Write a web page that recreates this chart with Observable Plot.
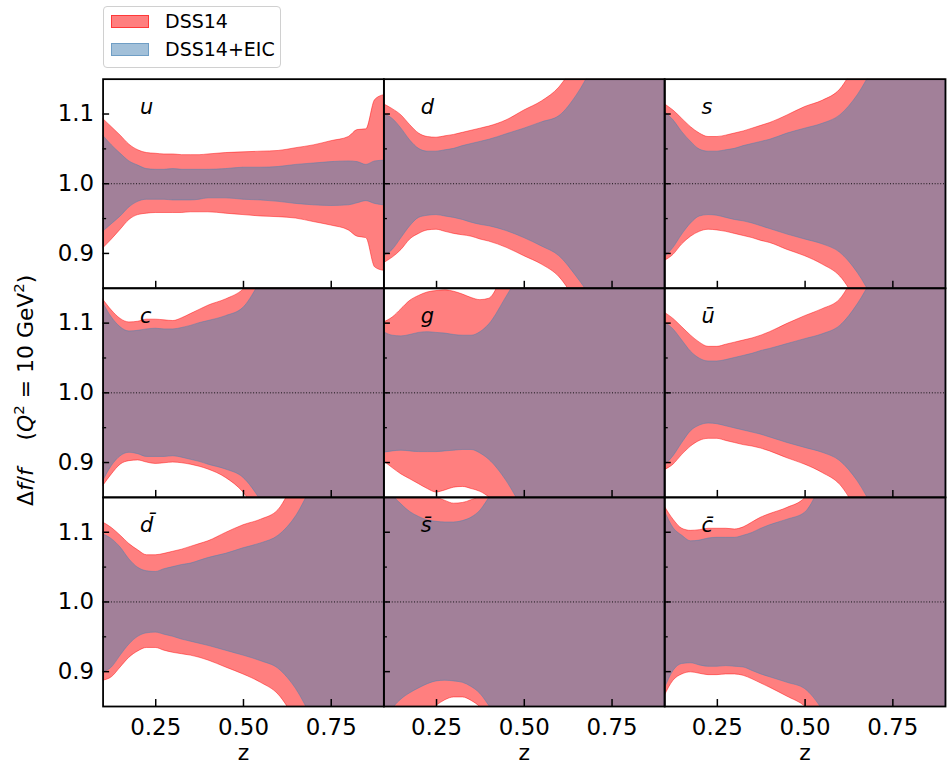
<!DOCTYPE html>
<html>
<head>
<meta charset="utf-8">
<script src="https://cdn.jsdelivr.net/npm/d3@7"></script>
<script src="https://cdn.jsdelivr.net/npm/@observablehq/plot@0.6"></script>
<style>
  html, body { margin: 0; padding: 0; background: #fff; overflow: hidden; }
  #wrap { position: relative; width: 948px; height: 770px; overflow: hidden; }
  #legend {
    position: absolute; left: 103px; top: 6px; width: 178px; height: 62px;
    box-sizing: border-box; border: 1px solid #d0d0d0; border-radius: 4px;
    background: rgba(255,255,255,0.85);
    font-family: "DejaVu Sans", sans-serif; font-size: 19px; color: #000;
  }
  #legend .patch { position: absolute; left: 7px; width: 38px; height: 13px; box-sizing: border-box; }
  #legend .lab { position: absolute; left: 61px; line-height: 19px; white-space: nowrap; }
</style>
</head>
<body>
<div id="wrap">
  <div id="chart"></div>
  <div id="legend">
    <div class="patch" style="top:8px;background:rgba(255,0,0,0.5);border:1px solid rgba(255,0,0,0.55);"></div>
    <div class="lab" style="top:5px;">DSS14</div>
    <div class="patch" style="top:36px;background:rgba(70,130,180,0.5);border:1px solid rgba(70,130,180,0.55);"></div>
    <div class="lab" style="top:33px;">DSS14+EIC</div>
  </div>
</div>
<script>
// momentum fraction grid shared by all panels
const z = [0.1, 0.125, 0.15, 0.175, 0.2, 0.225, 0.25, 0.275, 0.3, 0.325, 0.35, 0.375, 0.4,
           0.45, 0.5, 0.55, 0.6, 0.65, 0.7, 0.75, 0.8, 0.825, 0.85, 0.875, 0.9];

// tick values
const yMajorTicks = [0.9, 1.0, 1.1];
const yMinorTicks = [0.95, 1.05];
const xTicks = [0.25, 0.5, 0.75];

// u
const uDssHi = [1.093,1.081,1.069,1.056,1.048,1.044,1.043,1.042,1.042,1.041,1.041,1.041,1.042,1.044,1.045,1.046,1.047,1.051,1.055,1.061,1.067,1.077,1.078,1.120,1.127];
const uEicHi = [1.069,1.055,1.043,1.032,1.026,1.021,1.020,1.020,1.021,1.020,1.020,1.020,1.020,1.021,1.023,1.023,1.024,1.027,1.029,1.031,1.032,1.031,1.027,1.032,1.033];
const uEicLo = [0.931,0.942,0.953,0.966,0.974,0.977,0.977,0.977,0.976,0.976,0.976,0.977,0.979,0.979,0.977,0.976,0.974,0.971,0.969,0.968,0.969,0.972,0.975,0.971,0.969];
const uDssLo = [0.907,0.920,0.934,0.948,0.955,0.957,0.958,0.958,0.958,0.958,0.959,0.959,0.959,0.957,0.955,0.953,0.952,0.950,0.945,0.940,0.933,0.924,0.922,0.880,0.875];

// d
const dDssHi = [1.114,1.107,1.098,1.084,1.072,1.067,1.066,1.068,1.070,1.073,1.076,1.079,1.082,1.091,1.105,1.118,1.138,1.175,1.21,1.25,1.29,1.31,1.33,1.35,1.37];
const dEicHi = [1.100,1.093,1.079,1.062,1.050,1.046,1.046,1.048,1.050,1.054,1.057,1.060,1.063,1.071,1.079,1.088,1.097,1.127,1.17,1.21,1.25,1.27,1.29,1.31,1.33];
const dEicLo = [0.896,0.905,0.922,0.939,0.951,0.954,0.955,0.953,0.951,0.948,0.944,0.941,0.939,0.932,0.922,0.910,0.896,0.866,0.83,0.79,0.75,0.73,0.71,0.69,0.67];
const dDssLo = [0.886,0.894,0.905,0.920,0.928,0.933,0.934,0.931,0.928,0.926,0.924,0.920,0.917,0.908,0.896,0.884,0.866,0.83,0.79,0.75,0.71,0.69,0.67,0.65,0.63];

// s
const sDssHi = [1.114,1.105,1.093,1.081,1.072,1.067,1.067,1.069,1.072,1.075,1.079,1.083,1.087,1.098,1.110,1.119,1.135,1.175,1.21,1.25,1.29,1.31,1.33,1.35,1.37];
const sEicHi = [1.103,1.091,1.074,1.060,1.049,1.046,1.046,1.048,1.050,1.054,1.057,1.060,1.063,1.072,1.079,1.086,1.098,1.127,1.17,1.21,1.25,1.27,1.29,1.31,1.33];
const sEicLo = [0.894,0.908,0.927,0.943,0.953,0.955,0.954,0.951,0.948,0.946,0.943,0.939,0.935,0.927,0.920,0.913,0.901,0.872,0.83,0.79,0.75,0.73,0.71,0.69,0.67];
const sDssLo = [0.889,0.898,0.913,0.924,0.931,0.934,0.933,0.931,0.928,0.925,0.922,0.918,0.915,0.905,0.896,0.884,0.867,0.83,0.79,0.75,0.71,0.69,0.67,0.65,0.63];

// c
const cDssHi = [1.134,1.118,1.106,1.101,1.102,1.105,1.105,1.104,1.103,1.107,1.113,1.119,1.125,1.134,1.148,1.18,1.22,1.26,1.30,1.34,1.38,1.40,1.42,1.44,1.46];
const cEicHi = [1.129,1.108,1.094,1.088,1.089,1.091,1.092,1.091,1.091,1.093,1.096,1.100,1.103,1.110,1.122,1.16,1.20,1.24,1.28,1.32,1.36,1.38,1.40,1.42,1.44];
const cEicLo = [0.873,0.895,0.909,0.914,0.912,0.908,0.908,0.908,0.909,0.907,0.904,0.901,0.897,0.890,0.878,0.845,0.80,0.76,0.72,0.68,0.64,0.62,0.60,0.58,0.56];
const cDssLo = [0.866,0.883,0.897,0.902,0.903,0.900,0.898,0.899,0.900,0.899,0.897,0.894,0.890,0.878,0.857,0.82,0.78,0.74,0.70,0.66,0.62,0.60,0.58,0.56,0.54];

// g
const gDssHi = [1.101,1.108,1.120,1.132,1.139,1.144,1.146,1.147,1.145,1.141,1.136,1.133,1.135,1.18,1.22,1.26,1.30,1.34,1.38,1.42,1.46,1.48,1.50,1.52,1.54];
const gEicHi = [1.087,1.082,1.081,1.083,1.086,1.087,1.086,1.085,1.083,1.082,1.082,1.087,1.098,1.138,1.18,1.22,1.26,1.30,1.34,1.38,1.42,1.44,1.46,1.48,1.50];
const gEicLo = [0.914,0.916,0.917,0.916,0.915,0.915,0.915,0.916,0.917,0.918,0.918,0.913,0.904,0.873,0.83,0.79,0.75,0.71,0.67,0.63,0.59,0.57,0.55,0.53,0.51];
const gDssLo = [0.902,0.892,0.883,0.876,0.869,0.862,0.857,0.860,0.864,0.865,0.862,0.858,0.850,0.82,0.79,0.75,0.71,0.67,0.63,0.59,0.55,0.53,0.51,0.49,0.47];

// u-bar
const ubDssHi = [1.115,1.106,1.094,1.082,1.072,1.066,1.066,1.069,1.072,1.075,1.078,1.082,1.087,1.099,1.110,1.120,1.134,1.175,1.21,1.25,1.29,1.31,1.33,1.35,1.37];
const ubEicHi = [1.101,1.091,1.075,1.059,1.049,1.045,1.045,1.047,1.050,1.053,1.056,1.060,1.063,1.070,1.077,1.084,1.096,1.127,1.17,1.21,1.25,1.27,1.29,1.31,1.33];
const ubEicLo = [0.895,0.909,0.928,0.945,0.953,0.956,0.955,0.952,0.949,0.946,0.943,0.940,0.936,0.928,0.921,0.914,0.902,0.873,0.83,0.79,0.75,0.73,0.71,0.69,0.67];
const ubDssLo = [0.889,0.897,0.911,0.923,0.931,0.934,0.934,0.931,0.928,0.925,0.923,0.920,0.916,0.906,0.897,0.885,0.868,0.83,0.79,0.75,0.71,0.69,0.67,0.65,0.63];

// d-bar
const dbDssHi = [1.114,1.106,1.095,1.083,1.074,1.067,1.067,1.069,1.072,1.075,1.079,1.083,1.087,1.099,1.110,1.118,1.132,1.175,1.21,1.25,1.29,1.31,1.33,1.35,1.37];
const dbEicHi = [1.097,1.090,1.078,1.061,1.049,1.044,1.043,1.047,1.050,1.053,1.055,1.059,1.063,1.069,1.077,1.084,1.095,1.123,1.17,1.21,1.25,1.27,1.29,1.31,1.33];
const dbEicLo = [0.899,0.906,0.923,0.939,0.950,0.955,0.956,0.953,0.950,0.946,0.943,0.940,0.937,0.930,0.923,0.915,0.904,0.875,0.83,0.79,0.75,0.73,0.71,0.69,0.67];
const dbDssLo = [0.887,0.892,0.906,0.920,0.929,0.934,0.934,0.930,0.927,0.925,0.923,0.920,0.916,0.906,0.896,0.884,0.867,0.83,0.79,0.75,0.71,0.69,0.67,0.65,0.63];

// s-bar
const sbDssHi = [1.25,1.22,1.20,1.18,1.165,1.156,1.150,1.145,1.141,1.142,1.146,1.152,1.165,1.20,1.24,1.28,1.32,1.36,1.40,1.44,1.48,1.50,1.52,1.54,1.56];
const sbEicHi = [1.19,1.155,1.14,1.129,1.122,1.117,1.115,1.114,1.114,1.116,1.121,1.131,1.149,1.19,1.23,1.27,1.31,1.35,1.39,1.43,1.47,1.49,1.51,1.53,1.55];
const sbEicLo = [0.81,0.845,0.860,0.869,0.876,0.882,0.886,0.887,0.886,0.884,0.878,0.868,0.851,0.81,0.77,0.73,0.69,0.65,0.61,0.57,0.53,0.51,0.49,0.47,0.45];
const sbDssLo = [0.75,0.77,0.79,0.81,0.83,0.842,0.851,0.859,0.863,0.863,0.858,0.849,0.835,0.80,0.76,0.72,0.68,0.64,0.60,0.56,0.52,0.50,0.48,0.46,0.44];

// c-bar
const cbDssHi = [1.137,1.118,1.105,1.102,1.103,1.105,1.105,1.105,1.104,1.107,1.114,1.121,1.126,1.135,1.149,1.19,1.23,1.27,1.31,1.35,1.39,1.41,1.43,1.45,1.47];
const cbEicHi = [1.131,1.106,1.095,1.087,1.088,1.091,1.092,1.092,1.092,1.095,1.099,1.105,1.110,1.118,1.128,1.17,1.21,1.25,1.29,1.33,1.37,1.39,1.41,1.43,1.45];
const cbEicLo = [0.875,0.901,0.911,0.912,0.909,0.907,0.907,0.908,0.907,0.906,0.901,0.896,0.892,0.884,0.875,0.845,0.80,0.76,0.72,0.68,0.64,0.62,0.60,0.58,0.56];
const cbDssLo = [0.865,0.887,0.896,0.899,0.897,0.895,0.895,0.896,0.896,0.894,0.889,0.883,0.877,0.864,0.850,0.82,0.78,0.74,0.70,0.66,0.62,0.60,0.58,0.56,0.54];

// panel layout: flavour label, grid column and row
const panels = [
  {label: "u",        col: 0, row: 0, dssHi: uDssHi,  dssLo: uDssLo,  eicHi: uEicHi,  eicLo: uEicLo},
  {label: "d",        col: 1, row: 0, dssHi: dDssHi,  dssLo: dDssLo,  eicHi: dEicHi,  eicLo: dEicLo},
  {label: "s",        col: 2, row: 0, dssHi: sDssHi,  dssLo: sDssLo,  eicHi: sEicHi,  eicLo: sEicLo},
  {label: "c",        col: 0, row: 1, dssHi: cDssHi,  dssLo: cDssLo,  eicHi: cEicHi,  eicLo: cEicLo},
  {label: "g",        col: 1, row: 1, dssHi: gDssHi,  dssLo: gDssLo,  eicHi: gEicHi,  eicLo: gEicLo},
  {label: "u\u0304",  col: 2, row: 1, dssHi: ubDssHi, dssLo: ubDssLo, eicHi: ubEicHi, eicLo: ubEicLo},
  {label: "d\u0304",  col: 0, row: 2, dssHi: dbDssHi, dssLo: dbDssLo, eicHi: dbEicHi, eicLo: dbEicLo},
  {label: "s\u0304",  col: 1, row: 2, dssHi: sbDssHi, dssLo: sbDssLo, eicHi: sbEicHi, eicLo: sbEicLo},
  {label: "c\u0304",  col: 2, row: 2, dssHi: cbDssHi, dssLo: cbDssLo, eicHi: cbEicHi, eicLo: cbEicLo}
];

// one long table: both bands of every panel (faceted by col/row)
const rows = panels.flatMap(p => [
  ...z.map((zz, i) => ({label: p.label, col: p.col, row: p.row, i, z: zz, set: "DSS14", lo: p.dssLo[i], hi: p.dssHi[i]})),
  ...z.map((zz, i) => ({label: p.label, col: p.col, row: p.row, i, z: zz, set: "DSS14+EIC", lo: p.eicLo[i], hi: p.eicHi[i]}))
]);

const W = 952, H = 770;
const mL = 102.7, mR = 2, mT = 79, mB = 61;
const cellW = (W - mL - mR) / 3, cellH = (H - mT - mB) / 3;
const majorLen = 7, minorLen = 4;

const font = "'DejaVu Sans', sans-serif";

const chart = Plot.plot({
  width: W,
  height: H,
  marginLeft: mL,
  marginRight: mR,
  marginTop: mT,
  marginBottom: mB,
  style: {fontFamily: font, fontSize: "23px", color: "black", background: "white"},
  facet: {data: rows, x: "col", y: "row", marginTop: 0, marginRight: 0, marginBottom: 0, marginLeft: 0},
  x: {domain: [0.1, 0.9], ticks: xTicks, tickFormat: d3.format(".2f"), tickSize: 0, tickPadding: 12, label: null},
  y: {domain: [0.85, 1.15], ticks: yMajorTicks, tickFormat: d3.format(".1f"), tickSize: 0, tickPadding: 9, label: null},
  fx: {axis: null, padding: 0, domain: [0, 1, 2]},
  fy: {axis: null, padding: 0, domain: [0, 1, 2]},
  marks: [
    Plot.areaY(rows, {filter: d => d.set === "DSS14", x: "z", y1: "lo", y2: "hi", curve: "monotone-x",
      fill: "red", fillOpacity: 0.5, stroke: "red", strokeOpacity: 0.45, strokeWidth: 1, clip: true}),
    Plot.areaY(rows, {filter: d => d.set === "DSS14+EIC", x: "z", y1: "lo", y2: "hi", curve: "monotone-x",
      fill: "steelblue", fillOpacity: 0.5, stroke: "steelblue", strokeOpacity: 0.45, strokeWidth: 1, clip: true}),
    Plot.ruleY([1], {stroke: "black", strokeWidth: 0.9, strokeDasharray: "1,1.8"}),
    // inward ticks on the left and bottom edge of every panel
    Plot.ruleY(yMajorTicks, {stroke: "black", strokeWidth: 1.5, insetRight: cellW - majorLen}),
    Plot.ruleY(yMinorTicks, {stroke: "black", strokeWidth: 1.3, insetRight: cellW - minorLen}),
    Plot.ruleX(xTicks, {stroke: "black", strokeWidth: 1.5, insetTop: cellH - majorLen}),
    Plot.frame({stroke: "black", strokeWidth: 1.8}),
    // flavour labels
    Plot.text(rows, {filter: d => d.set === "DSS14" && d.i === 0, frameAnchor: "top-left", text: "label",
      dx: 37, dy: 28, lineAnchor: "middle", textAnchor: "start", fontSize: 21, fontStyle: "italic", fill: "black"}),
    // x label under each column of the bottom row
    Plot.text(rows, {filter: d => d.set === "DSS14" && d.i === 0 && d.row === 2, frameAnchor: "bottom",
      text: () => "z", dy: 47, lineAnchor: "middle", fontSize: 22, fill: "black"})
  ]
});

document.getElementById("chart").appendChild(chart);

// rotated y label with italic math symbols
const yl = d3.select(chart).append("text")
  .attr("transform", "translate(33,392) rotate(-90)")
  .attr("text-anchor", "middle")
  .attr("font-family", font)
  .attr("font-size", 22)
  .attr("fill", "black");
yl.append("tspan").text("\u0394");
yl.append("tspan").attr("font-style", "italic").text("f");
yl.append("tspan").text("/");
yl.append("tspan").attr("font-style", "italic").text("f");
yl.append("tspan").text("\u00a0\u00a0\u00a0\u00a0(");
yl.append("tspan").attr("font-style", "italic").text("Q");
yl.append("tspan").attr("font-size", 15).attr("dy", -9).text("2");
yl.append("tspan").attr("dy", 9).text("\u00a0=\u00a010\u00a0GeV");
yl.append("tspan").attr("font-size", 15).attr("dy", -9).text("2");
yl.append("tspan").attr("dy", 9).text(")");
</script>
</body>
</html>
